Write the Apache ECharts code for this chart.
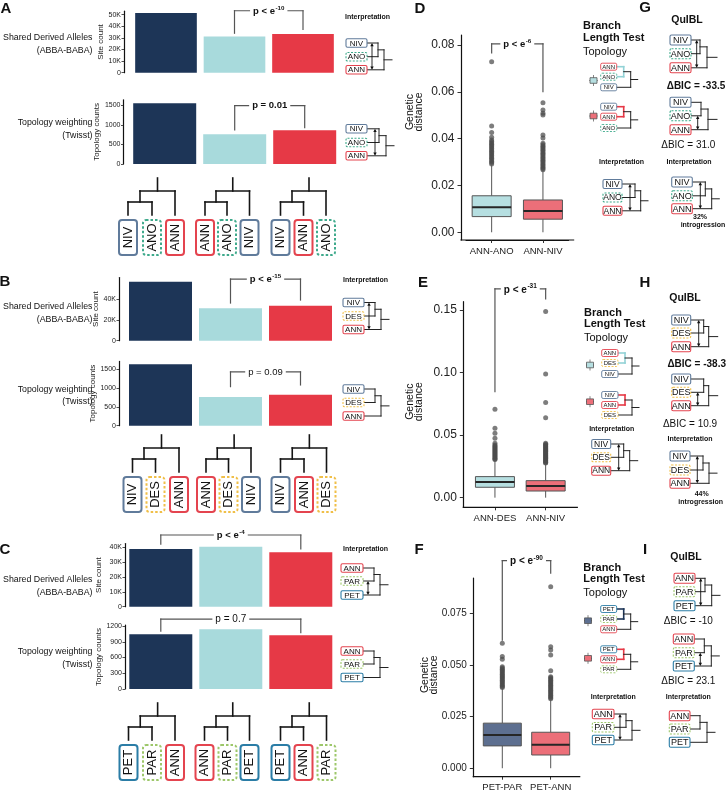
<!DOCTYPE html>
<html><head><meta charset="utf-8">
<script src="https://cdn.jsdelivr.net/npm/echarts@6/dist/echarts.min.js"></script>
<style>html,body{margin:0;padding:0;background:#fff}#c{width:727px;height:794px}</style>
</head><body><div id="c"></div>
<script>
// ---------------- DATA ----------------
const topologyCats = ['topology 1', 'topology 2', 'topology 3'];
const A_siteCounts = [51400, 31300, 33400];
const A_twisstCounts = [1551, 759, 861];
const B_siteCounts = [57000, 31300, 33800];
const B_twisstCounts = [1624, 759, 820];
const C_siteCounts = [38900, 40400, 36600];
const C_twisstCounts = [1042, 1137, 1023];

const A_treeTips = [['NIV','ANO','ANN'], ['ANN','ANO','NIV'], ['NIV','ANN','ANO']];
const B_treeTips = [['NIV','DES','ANN'], ['ANN','DES','NIV'], ['NIV','ANN','DES']];
const C_treeTips = [['PET','PAR','ANN'], ['ANN','PAR','PET'], ['PET','ANN','PAR']];

const siteTicksA = [0, 10000, 20000, 30000, 40000, 50000];
const siteTicksB = [0, 20000, 40000];
const siteTicksC = [0, 10000, 20000, 30000, 40000];
const twisstTicksAB = [0, 500, 1000, 1500];
const twisstTicksC = [0, 300, 600, 900, 1200];

// p-value labels ("^" marks an exponent)
const pA = ['p < e^-10', 'p = 0.01'];
const pB = ['p < e^-15', 'p = 0.09'];
const pC = ['p < e^-4', 'p = 0.7'];

// boxplots: [min, Q1, median, Q3, max(whisker)]
const D_cats = ['ANN-ANO', 'ANN-NIV'];
const D_boxes = [[0, 0.0067, 0.0107, 0.0156, 0.0287], [0, 0.0056, 0.0091, 0.0138, 0.0263]];
const D_outliers1 = [0.0729, 0.0454, 0.0426, 0.0406, 0.0394, 0.0388, 0.0382, 0.0376, 0.0370, 0.0364, 0.0358, 0.0352, 0.0346, 0.0340, 0.0334, 0.0328, 0.0322, 0.0316, 0.0310, 0.0304, 0.0298, 0.0292];
const D_outliers2 = [0.0553, 0.0523, 0.0509, 0.0501, 0.0416, 0.0403, 0.0380, 0.0374, 0.0368, 0.0362, 0.0356, 0.0350, 0.0344, 0.0338, 0.0332, 0.0326, 0.0320, 0.0314, 0.0308, 0.0302, 0.0296, 0.0290, 0.0284, 0.0278, 0.0272, 0.0267];
const D_p = 'p < e^-6';

const E_cats = ['ANN-DES', 'ANN-NIV'];
const E_boxes = [[0, 0.0083, 0.0125, 0.0168, 0.0300], [0, 0.0053, 0.0093, 0.0136, 0.0272]];
const E_outliers1 = [0.0706, 0.0554, 0.0514, 0.0474, 0.0434, 0.0421, 0.0413, 0.0405, 0.0397, 0.0389, 0.0381, 0.0373, 0.0365, 0.0357, 0.0349, 0.0341, 0.0333, 0.0325, 0.0317, 0.0309, 0.0304];
const E_outliers2 = [0.1486, 0.0988, 0.0759, 0.0639, 0.0434, 0.0427, 0.0420, 0.0413, 0.0406, 0.0399, 0.0392, 0.0385, 0.0378, 0.0371, 0.0364, 0.0357, 0.0350, 0.0343, 0.0336, 0.0329, 0.0322, 0.0315, 0.0308, 0.0301, 0.0294, 0.0287, 0.0280, 0.0276];
const E_p = 'p < e^-31';

const F_cats = ['PET-PAR', 'PET-ANN'];
const F_boxes = [[0, 0.0108, 0.0161, 0.0218, 0.0386], [0, 0.0064, 0.0113, 0.0174, 0.0334]];
const F_outliers1 = [0.0604, 0.0540, 0.0527, 0.0491, 0.0485, 0.0479, 0.0473, 0.0467, 0.0461, 0.0455, 0.0449, 0.0443, 0.0437, 0.0431, 0.0425, 0.0419, 0.0413, 0.0407, 0.0401, 0.0395, 0.0390];
const F_outliers2 = [0.0878, 0.0588, 0.0572, 0.0548, 0.0472, 0.0443, 0.0437, 0.0431, 0.0425, 0.0419, 0.0413, 0.0407, 0.0401, 0.0395, 0.0389, 0.0383, 0.0377, 0.0371, 0.0365, 0.0359, 0.0353, 0.0347, 0.0341, 0.0336];
const F_p = 'p < e^-90';

const distTicksD = [0, 0.02, 0.04, 0.06, 0.08];
const distTicksE = [0, 0.05, 0.10, 0.15];
const distTicksF = [0, 0.025, 0.05, 0.075];

const G_dBIC = ['-33.5', '31.0'];
const H_dBIC = ['-38.3', '10.9'];
const I_dBIC = ['-10', '23.1'];
const G_introgression = 32;
const H_introgression = 44;

// ---------------- STYLE ----------------
const FONT = '"Liberation Sans", Arial, sans-serif';
const BAR_COLORS = ['#1d3557', '#a8dadc', '#e63946'];
const TAXON = {
  NIV: {c: '#607b9b'}, ANO: {c: '#3faa8c', d: true}, ANN: {c: '#e4444f'},
  DES: {c: '#f0bf48', d: true}, PET: {c: '#2b7da6'}, PAR: {c: '#9dc76a', d: true}
};

const G = [];
function ln(x1, y1, x2, y2, c, w) {
  G.push({type: 'line', silent: true, z: 50, shape: {x1, y1, x2, y2},
    style: {stroke: c || '#1a1a1a', lineWidth: w || 1.1, lineCap: 'square'}});
}
function tx(x, y, s, size, o) {
  o = o || {};
  const st = {text: s, font: (o.bold ? 'bold ' : '') + size + 'px ' + FONT, fill: o.fill || '#111',
    textAlign: o.align || 'left', align: o.align || 'left', textVerticalAlign: 'middle', verticalAlign: 'middle'};
  if (o.bg) { st.backgroundColor = o.bg; st.padding = o.pad || [0, 2]; }
  if (o.lh) st.lineHeight = o.lh;
  if (o.rich) st.rich = o.rich;
  G.push({type: 'text', silent: true, z: 60, x, y, rotation: o.rot || 0, style: st});
}
function pText(x, y, s, size, bold) {
  const parts = s.split('^');
  const f = (bold ? 'bold ' : '') + size + 'px ' + FONT;
  const fs = (bold ? 'bold ' : '') + (size * 0.65).toFixed(1) + 'px ' + FONT;
  if (parts.length === 1) { tx(x, y, s, size, {align: 'center', bold, bg: '#fff', pad: [1, 3]}); return; }
  tx(x, y, '{b|' + parts[0] + '}{s|' + parts[1] + '}', size, {align: 'center', bold, bg: '#fff', pad: [1, 3],
    rich: {b: {font: f, fill: '#111', lineHeight: size + 2, verticalAlign: 'bottom'},
           s: {font: fs, fill: '#111', lineHeight: size * 0.7, verticalAlign: 'top', padding: [0, 0, 0, 0.5]}}});
}
function taxonBox(x, y, w, h, name, fs, o) {
  const t = TAXON[name]; o = o || {};
  G.push({type: 'rect', silent: true, z: 55, shape: {x, y, width: w, height: h, r: o.r || 2},
    style: {fill: '#fff', stroke: t.c, lineWidth: o.lw || 1.2, lineDash: t.d ? (o.dash || [2, 1.5]) : null}});
  if (o.rot) tx(x + w / 2, y + h / 2, name, fs, {rot: Math.PI / 2, align: 'center'});
  else tx(x + w / 2, y + h / 2 + 0.4, name, fs, {align: 'center'});
}
function leafTree(cs, y0, labels) {
  const [c1, c2, c3] = cs; const y1 = y0 + 13, y2 = y1 + 11, y3 = y0 + 37;
  const cx = (c1 + c2) / 2, rx = (cx + c3) / 2;
  const w = 1.6, k = '#151515';
  ln(rx, y0, rx, y1, k, w); ln(cx, y1, c3, y1, k, w); ln(cx, y1, cx, y2, k, w); ln(c1, y2, c2, y2, k, w);
  ln(c1, y2, c1, y3, k, w); ln(c2, y2, c2, y3, k, w); ln(c3, y1, c3, y3, k, w);
  labels.forEach((l, i) => taxonBox(cs[i] - 9, y3 + 5, 18, 35, l, 13, {rot: true, r: 3, lw: 2, dash: [2.5, 2]}));
}
function arrow(x, ya, yb) {
  ln(x, ya + 2, x, yb - 2, '#111', 0.9);
  G.push({type: 'polygon', silent: true, z: 58, shape: {points: [[x, ya], [x - 1.7, ya + 3.2], [x + 1.7, ya + 3.2]]}, style: {fill: '#111'}});
  G.push({type: 'polygon', silent: true, z: 58, shape: {points: [[x, yb], [x - 1.7, yb - 3.2], [x + 1.7, yb - 3.2]]}, style: {fill: '#111'}});
}
function miniTree(x, w, cs, labels, o) {
  o = Object.assign({h: 9, fs: 8.5, j1: 11, j2: 17, root: 25, ax: 5}, o);
  const xr = x + w, J1 = xr + o.j1, J2 = xr + o.j2, R = xr + o.root;
  const cc = o.cherry || '#222', cw = o.cherry ? 1.6 : 1;
  ln(xr, cs[0], J1, cs[0], cc, cw); ln(xr, cs[1], J1, cs[1], cc, cw); ln(J1, cs[0], J1, cs[1], cc, cw);
  const m = (cs[0] + cs[1]) / 2, m2 = (m + cs[2]) / 2;
  ln(J1, m, J2, m, '#222', 1); ln(xr, cs[2], J2, cs[2], '#222', 1); ln(J2, m, J2, cs[2], '#222', 1);
  ln(J2, m2, R, m2, '#222', 1);
  labels.forEach((l, i) => taxonBox(x, cs[i] - o.h / 2, w, o.h, l, o.fs, {r: 1.5, lw: o.lw || 1.1}));
  if (o.arrow) arrow(xr + o.ax, cs[o.arrow[0]], cs[o.arrow[1]]);
}
const LEG = {h: 7, fs: 6, j1: 7, j2: 14, root: 21, lw: 0.9};
function boxGlyph(cx, cy, fill) {
  ln(cx, cy - 5, cx, cy + 5, '#666', 0.8);
  G.push({type: 'rect', silent: true, z: 55, shape: {x: cx - 3.5, y: cy - 2.8, width: 7, height: 5.6}, style: {fill, stroke: '#555', lineWidth: 0.8}});
  ln(cx - 3.5, cy, cx + 3.5, cy, '#333', 0.9);
}

// ---------------- ECHARTS OPTION ----------------
const grids = [], xAxes = [], yAxes = [], series = [];
function kFmt(v) { return v === 0 ? '0' : (v / 1000) + 'K'; }
function addBar(left, width, top, height, max, offset, ticks, vals, name, nameGap, fmt) {
  const gi = grids.length;
  grids.push({left, top, width, height, outerBoundsMode: 'none', containLabel: false});
  xAxes.push({gridIndex: gi, type: 'category', data: topologyCats, show: false});
  yAxes.push({gridIndex: gi, type: 'value', min: 0, max, offset,
    name, nameLocation: 'middle', nameRotate: 90, nameGap,
    nameTextStyle: {fontSize: 8, fontFamily: FONT, color: '#222'},
    axisLine: {show: true, lineStyle: {color: '#111', width: 1.2}},
    axisTick: {show: true, length: 2.5, customValues: ticks, lineStyle: {color: '#222', width: 0.8}},
    axisLabel: {customValues: ticks, fontSize: 7, fontFamily: FONT, color: '#222', margin: 3, formatter: fmt},
    splitLine: {show: false}});
  series.push({type: 'bar', xAxisIndex: gi, yAxisIndex: gi, barWidth: '90%', silent: true,
    data: vals.map((v, i) => ({value: v, itemStyle: {color: BAR_COLORS[i]}}))});
  return gi;
}
const intFmt = v => String(v);
const gA1 = addBar(131.75, 205.5, 11.2, 61.5, 53000, 7.75, siteTicksA, A_siteCounts, 'Site count', 19, kFmt);
const gA2 = addBar(129.7, 210, 99.8, 64.2, 1640, 6.2, twisstTicksAB, A_twisstCounts, 'Topology counts', 19, intFmt);
const gB1 = addBar(125.5, 210, 277.6, 63.1, 61000, 6.5, siteTicksB, B_siteCounts, 'Site count', 17, kFmt);
const gB2 = addBar(125.5, 210, 361.4, 64.3, 1700, 6.5, twisstTicksAB, B_twisstCounts, 'Topology counts', 17, intFmt);
const gC1 = addBar(125.8, 210, 543.6, 63.1, 42500, 0.8, siteTicksC, C_siteCounts, 'Site count', 22, kFmt);
const gC2 = addBar(125.8, 210, 625, 64, 1220, 0.8, twisstTicksC, C_twisstCounts, 'Topology counts', 22, intFmt);

const boxFrames = [];
function addBox(left, width, top, height, min, max, offset, ticks, dec, fs, cats, boxes, fills, bw, out1, out2) {
  const gi = grids.length;
  boxFrames.push({left, width, top, height, offset});
  grids.push({left, top, width, height, outerBoundsMode: 'none', containLabel: false});
  xAxes.push({gridIndex: gi, type: 'category', data: cats,
    axisLine: {show: true, onZero: false, lineStyle: {color: '#111', width: 1.2}},
    axisTick: {show: true, alignWithLabel: true, interval: 0, length: 3, lineStyle: {color: '#333'}},
    axisLabel: {interval: 0, hideOverlap: false, fontSize: 9.5, fontFamily: FONT, color: '#222', margin: 6}});
  yAxes.push({gridIndex: gi, type: 'value', min, max, offset,
    axisLine: {show: true, lineStyle: {color: '#111', width: 1.2}},
    axisTick: {show: true, length: 3.5, customValues: ticks, lineStyle: {color: '#333'}},
    axisLabel: {customValues: ticks, fontSize: fs, fontFamily: FONT, color: '#222', margin: 6.5, formatter: v => v.toFixed(dec)},
    splitLine: {show: false}});
  series.push({type: 'scatter', xAxisIndex: gi, yAxisIndex: gi, silent: true, symbolSize: 5, z: 2,
    itemStyle: {color: 'rgba(75,75,75,0.9)'},
    data: out1.map(v => [0, v]).concat(out2.map(v => [1, v]))});
  series.push({type: 'custom', xAxisIndex: gi, yAxisIndex: gi, silent: true, z: 3,
    data: boxes.map((b, i) => [i].concat(b)), encode: {x: 0, y: [1, 2, 3, 4, 5]},
    renderItem: function (params, api) {
      const i = api.value(0);
      const p = k => api.coord([i, api.value(k)]);
      const lo = p(1), q1 = p(2), md = p(3), q3 = p(4), hi = p(5), cx = lo[0];
      return {type: 'group', children: [
        {type: 'line', shape: {x1: cx, y1: lo[1], x2: cx, y2: q1[1]}, style: {stroke: '#555', lineWidth: 1}},
        {type: 'line', shape: {x1: cx, y1: q3[1], x2: cx, y2: hi[1]}, style: {stroke: '#555', lineWidth: 1}},
        {type: 'rect', shape: {x: cx - bw / 2, y: q3[1], width: bw, height: q1[1] - q3[1]}, style: {fill: fills[i], stroke: '#555', lineWidth: 1}},
        {type: 'line', shape: {x1: cx - bw / 2, y1: md[1], x2: cx + bw / 2, y2: md[1]}, style: {stroke: '#262626', lineWidth: 2}}
      ]};
    }});
  return gi;
}
const BOX_BLUE = '#b6dfe1', BOX_RED = '#ec6f79', BOX_SLATE = '#5d6f90';
const gD = addBox(466, 102.6, 35, 205, -0.0033, 0.0843, 5, distTicksD, 2, 12, D_cats, D_boxes, [BOX_BLUE, BOX_RED], 39, D_outliers1, D_outliers2);
const gE = addBox(469.6, 101.4, 301.7, 205.6, -0.0077, 0.1565, 6.3, distTicksE, 2, 12, E_cats, E_boxes, [BOX_BLUE, BOX_RED], 39, E_outliers1, E_outliers2);
const gF = addBox(478.1, 96.8, 578, 198.7, -0.0041, 0.0920, 4.8, distTicksF, 3, 10, F_cats, F_boxes, [BOX_SLATE, BOX_RED], 38, F_outliers1, F_outliers2);

const chart = echarts.init(document.getElementById('c'), null, {renderer: 'canvas', width: 727, height: 794});
chart.setOption({animation: false, backgroundColor: '#fff', grid: grids, xAxis: xAxes, yAxis: yAxes, series});

// extend box-plot x axis lines to meet the offset y axis (ggplot-style expansion)
boxFrames.forEach(f => {
  const yb = f.top + f.height;
  ln(f.left - f.offset, yb, f.left + f.width + f.offset, yb, '#111', 1.2);
});

// ---------------- BRACKETS (data coordinates) ----------------
const brackets = [
  {g: gA1, a: 1, b: 2, yl: 34000, top: 53400, yr: 37400, t: pA[0], bold: true, fs: 9.5},
  {g: gA2, a: 1, b: 2, yl: 869, top: 1490, yr: 928, t: pA[1], bold: true, fs: 9.5},
  {g: gB1, a: 1, b: 2, yl: 36400, top: 59600, yr: 39300, t: pB[0], bold: true, fs: 9.5},
  {g: gB2, a: 1, b: 2, yl: 1032, top: 1421, yr: 1077, t: pB[1], bold: false, fs: 9.5},
  {g: gC1, a: 0, b: 2, yl: 42200, top: 48300, yr: 38900, t: pC[0], bold: true, fs: 9.5},
  {g: gC2, a: 0, b: 2, yl: 1105, top: 1333, yr: 1072, t: pC[1], bold: false, fs: 10},
  {g: gD, a: 0, b: 1, yl: 0.0766, top: 0.0805, yr: 0.0601, t: D_p, bold: true, fs: 9.5},
  {g: gE, a: 0, b: 1, yl: 0.0847, top: 0.1667, yr: 0.1587, t: E_p, bold: true, fs: 10},
  {g: gF, a: 0, b: 1, yl: 0.0620, top: 0.1004, yr: 0.0943, t: F_p, bold: true, fs: 10}
];
brackets.forEach(br => {
  const px = (c, v) => chart.convertToPixel({xAxisIndex: br.g, yAxisIndex: br.g}, [c, v]);
  const L0 = px(br.a, br.yl), Lt = px(br.a, br.top), Rt = px(br.b, br.top), R0 = px(br.b, br.yr);
  ln(L0[0], L0[1], Lt[0], Lt[1], '#555', 1.2);
  ln(Lt[0], Lt[1], Rt[0], Rt[1], '#555', 1.2);
  ln(Rt[0], Rt[1], R0[0], R0[1], '#555', 1.2);
  pText((Lt[0] + Rt[0]) / 2, Lt[1], br.t, br.fs, br.bold);
});

// ---------------- LABELS & DIAGRAMS ----------------
[['A', 6, 9], ['B', 5, 282], ['C', 5, 549.5], ['D', 420, 9], ['E', 423, 283], ['F', 419, 549.5], ['G', 645, 8], ['H', 645, 283], ['I', 645, 549.5]]
  .forEach(l => tx(l[1], l[2], l[0], 15, {bold: true, align: 'center'}));

function rowLabel(y, l1, l2) { tx(92.5, y, l1, 8.8, {align: 'right'}); tx(92.5, y + 12.5, l2, 8.8, {align: 'right'}); }
rowLabel(38, 'Shared Derived Alleles', '(ABBA-BABA)');
rowLabel(122.7, 'Topology weighting', '(Twisst)');
rowLabel(306.7, 'Shared Derived Alleles', '(ABBA-BABA)');
rowLabel(389.3, 'Topology weighting', '(Twisst)');
rowLabel(580, 'Shared Derived Alleles', '(ABBA-BABA)');
rowLabel(651.7, 'Topology weighting', '(Twisst)');

// topology trees under bars
[[128, 152, 175], [205, 227, 249.5], [280.5, 303.5, 326]].forEach((cs, i) => leafTree(cs, 178, A_treeTips[i]));
[[132.5, 155.5, 179], [206, 228.5, 251], [280.5, 304, 326.5]].forEach((cs, i) => leafTree(cs, 435, B_treeTips[i]));
[[128.5, 152, 175], [204.5, 227.5, 249.5], [280.5, 303.5, 326.5]].forEach((cs, i) => leafTree(cs, 703, C_treeTips[i]));

// interpretations A/B/C
tx(345, 17, 'Interpretation', 7, {bold: true});
miniTree(346, 21, [43, 56.7, 69.8], ['NIV', 'ANO', 'ANN'], {h: 8.5, fs: 8, arrow: [0, 2]});
miniTree(346, 21, [128.8, 142.5, 155.8], ['NIV', 'ANO', 'ANN'], {h: 8.5, fs: 8, arrow: [0, 2], ax: 8, j1: 12, j2: 19, root: 27});
tx(343, 280, 'Interpretation', 7, {bold: true});
miniTree(343, 21, [302.5, 316, 329.5], ['NIV', 'DES', 'ANN'], {h: 8.5, fs: 8, arrow: [0, 2]});
miniTree(343, 21, [389, 402.5, 416], ['NIV', 'DES', 'ANN'], {h: 8.5, fs: 8});
tx(343, 549, 'Interpretation', 7, {bold: true});
miniTree(341, 22, [568, 581, 595], ['ANN', 'PAR', 'PET'], {h: 8.5, fs: 8, arrow: [1, 2]});
miniTree(341, 22, [651, 664, 677.5], ['ANN', 'PAR', 'PET'], {h: 8.5, fs: 8});

// axis titles of box plots
tx(415, 112, 'Genetic\ndistance', 10.5, {rot: Math.PI / 2, align: 'center', lh: 9});
tx(415, 401.7, 'Genetic\ndistance', 10.5, {rot: Math.PI / 2, align: 'center', lh: 9});
tx(429.5, 675, 'Genetic\ndistance', 10.5, {rot: Math.PI / 2, align: 'center', lh: 9});

function btHeader(x, y) {
  tx(x, y, 'Branch', 11, {bold: true});
  tx(x, y + 11.5, 'Length Test', 11, {bold: true});
  tx(x, y + 25.5, 'Topology', 11);
}
// D legend
btHeader(583, 26);
boxGlyph(593.5, 80.5, BOX_BLUE);
miniTree(600.7, 16, [66.7, 76.7, 87.3], ['ANN', 'ANO', 'NIV'], Object.assign({cherry: '#93d2d6'}, LEG));
boxGlyph(593.5, 116, BOX_RED);
miniTree(600.7, 16, [106.7, 116.7, 128], ['NIV', 'ANN', 'ANO'], Object.assign({cherry: '#e63946'}, LEG));
tx(621.5, 162, 'Interpretation', 7, {bold: true, align: 'center'});
miniTree(603, 19, [184, 197.5, 210.8], ['NIV', 'ANO', 'ANN'], {h: 9, fs: 8.5, arrow: [0, 2], ax: 8, j1: 13, j2: 18.7, root: 26});

// G
tx(687, 20, 'QuIBL', 10.5, {bold: true, align: 'center'});
miniTree(670, 21, [40, 53.7, 67.8], ['NIV', 'ANO', 'ANN'], {h: 10, fs: 9, arrow: [0, 2], ax: 5.7, j1: 9, j2: 16, root: 26});
tx(696, 86, 'ΔBIC = ' + G_dBIC[0], 10, {bold: true, align: 'center'});
miniTree(670, 21, [102.3, 115.8, 129.7], ['NIV', 'ANO', 'ANN'], {h: 10, fs: 9, arrow: [1, 2], ax: 6.7, j1: 10, j2: 17, root: 26});
tx(688.3, 145, 'ΔBIC = ' + G_dBIC[1], 10, {align: 'center'});
tx(689, 162, 'Interpretation', 7, {bold: true, align: 'center'});
miniTree(671.7, 20.6, [182, 195.8, 208.7], ['NIV', 'ANO', 'ANN'], {h: 10, fs: 9, arrow: [0, 2], ax: 8, j1: 13, j2: 19.4, root: 27});
tx(700, 217, G_introgression + '%', 7, {bold: true, align: 'center'});
tx(703, 225, 'introgression', 7, {bold: true, align: 'center'});

// E legend
btHeader(584, 312.7);
boxGlyph(590, 365, BOX_BLUE);
miniTree(601.7, 16.3, [353, 363, 374], ['ANN', 'DES', 'NIV'], Object.assign({cherry: '#93d2d6'}, LEG));
boxGlyph(590, 401.7, BOX_RED);
miniTree(601.7, 16.3, [395, 405, 415], ['NIV', 'ANN', 'DES'], Object.assign({cherry: '#e63946'}, LEG));
tx(611.7, 429, 'Interpretation', 7, {bold: true, align: 'center'});
miniTree(591.7, 19, [444, 457.3, 470.7], ['NIV', 'DES', 'ANN'], {h: 9, fs: 8.5, arrow: [0, 2], ax: 8, j1: 13, j2: 19, root: 27});

// H
tx(685, 298.3, 'QuIBL', 10.5, {bold: true, align: 'center'});
miniTree(671.7, 19, [320, 333, 346.7], ['NIV', 'DES', 'ANN'], {h: 10, fs: 9, arrow: [0, 2], ax: 8, j1: 13, j2: 18, root: 27});
tx(696.7, 364.3, 'ΔBIC = ' + H_dBIC[0], 10, {bold: true, align: 'center'});
miniTree(671.7, 19, [379, 392.3, 405.7], ['NIV', 'DES', 'ANN'], {h: 10, fs: 9, arrow: [1, 2], ax: 7, j1: 13, j2: 18, root: 27});
tx(690, 424, 'ΔBIC = ' + H_dBIC[1], 10, {align: 'center'});
tx(690, 439.3, 'Interpretation', 7, {bold: true, align: 'center'});
miniTree(670, 20, [456, 470, 483.3], ['NIV', 'DES', 'ANN'], {h: 10, fs: 9, arrow: [0, 2], ax: 7.3, j1: 13, j2: 19, root: 27});
tx(701.7, 494.5, H_introgression + '%', 7, {bold: true, align: 'center'});
tx(700.7, 502.5, 'introgression', 7, {bold: true, align: 'center'});

// F legend
btHeader(583.3, 567.7);
boxGlyph(588, 620.7, BOX_SLATE);
miniTree(600.7, 16, [609, 619, 629.3], ['PET', 'PAR', 'ANN'], Object.assign({cherry: '#1d3557'}, LEG));
boxGlyph(588, 658.3, BOX_RED);
miniTree(600.7, 16, [649.3, 659.3, 669.3], ['PET', 'ANN', 'PAR'], Object.assign({cherry: '#e63946'}, LEG));
tx(613.3, 696.7, 'Interpretation', 7, {bold: true, align: 'center'});
miniTree(592.3, 21.7, [714, 727.3, 740], ['ANN', 'PAR', 'PET'], {h: 9.5, fs: 9, arrow: [0, 2], ax: 6, j1: 12, j2: 18, root: 26});

// I
tx(686, 556.7, 'QuIBL', 10.5, {bold: true, align: 'center'});
miniTree(674, 21, [578.3, 591.7, 605.7], ['ANN', 'PAR', 'PET'], {h: 10, fs: 9, arrow: [0, 2], ax: 5.7, j1: 10, j2: 16.7, root: 25});
tx(688.3, 621.7, 'ΔBIC = ' + I_dBIC[0], 10, {align: 'center'});
miniTree(673.3, 21, [639, 652.7, 666], ['ANN', 'PAR', 'PET'], {h: 10, fs: 9, arrow: [1, 2], ax: 6, j1: 10, j2: 17, root: 25});
tx(688.3, 681.7, 'ΔBIC = ' + I_dBIC[1], 10, {align: 'center'});
tx(688.3, 697.3, 'Interpretation', 7, {bold: true, align: 'center'});
miniTree(669.3, 20.7, [715.7, 729, 742.3], ['ANN', 'PAR', 'PET'], {h: 10, fs: 9, j1: 10, j2: 17, root: 25});

chart.setOption({graphic: {elements: G}});
</script>
</body></html>
